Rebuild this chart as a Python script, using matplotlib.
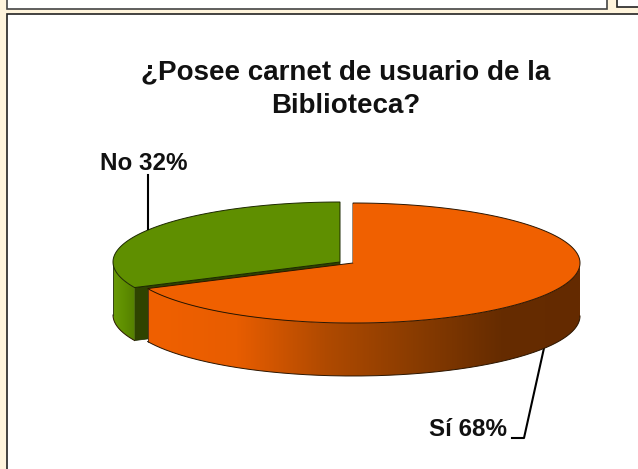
import numpy as np
import matplotlib
matplotlib.use('Agg')
import matplotlib.pyplot as plt
from matplotlib.patches import Polygon, Rectangle
from matplotlib.colors import LinearSegmentedColormap

plt.rcParams['font.family'] = ['Liberation Sans', 'DejaVu Sans']

# datos del grafico
categorias = ['Sí', 'No']
porcentajes = [68, 32]
titulo = ['¿Posee carnet de usuario de la', 'Biblioteca?']

fig = plt.figure(figsize=(6.38, 4.69), dpi=100, facecolor='#FFF4DC')
ax = fig.add_axes([0, 0, 1, 1])
ax.set_xlim(0, 638)
ax.set_ylim(469, 0)
ax.axis('off')

# paneles del fondo
ax.add_patch(Rectangle((7, -5), 600, 14, fc='white', ec='#444444', lw=1.2))
ax.add_patch(Rectangle((617, -5), 40, 12, fc='white', ec='#222222', lw=1.2))
ax.add_patch(Rectangle((7, 14), 640, 470, fc='white', ec='#222222', lw=1.2))

rx, ry, prof = 227, 60, 53


def borde(cx, cy, a1, a2, n=200):
    t = np.radians(np.linspace(a1, a2, n))
    return cx + rx * np.cos(t), cy - ry * np.sin(t)


def lateral(cx, cy, a1, a2, colores, x1, x2, z):
    # cara lateral con degradado en horizontal
    x, y = borde(cx, cy, a1, a2)
    verts = np.column_stack([np.r_[x, x[::-1]], np.r_[y, y[::-1] + prof]])
    pol = Polygon(verts, closed=True, fc='none', ec='none', zorder=z)
    ax.add_patch(pol)
    cmap = LinearSegmentedColormap.from_list('g', colores)
    im = ax.imshow(np.linspace(0, 1, 256).reshape(1, -1), cmap=cmap, aspect='auto',
                   extent=[x1, x2, 400, 190], zorder=z)
    im.set_clip_path(pol)
    ax.plot(x, y + prof, color='#2a1500', lw=0.7, zorder=z + 0.1)
    ax.plot([x[0], x[0]], [y[0], y[0] + prof], color='#222222', lw=0.5, zorder=z + 0.1)
    ax.set_xlim(0, 638)
    ax.set_ylim(469, 0)


ang_si = porcentajes[0] / 100 * 360
ang_no = porcentajes[1] / 100 * 360
fin = 90 - ang_si

# sector No (verde)
cx, cy = 340, 262
x, y = borde(cx, cy, 90, 90 + ang_no)
# cara interior oscura
ax.add_patch(Polygon([(cx, cy), (x[-1], y[-1]), (x[-1], y[-1] + prof), (cx, cy + prof)],
                     fc='#2F4300', ec='#1c2800', lw=0.5, zorder=2))
lateral(cx, cy, 180, 90 + ang_no, ['#6A9A08', '#5F8F00', '#557F00'], 113, 135, 3)
ax.add_patch(Polygon(np.column_stack([np.r_[cx, x], np.r_[cy, y]]), fc='#5F8F00', ec='#1c2800', lw=0.7, zorder=4))

# sector Si (naranja)
cx, cy = 353, 263
lateral(cx, cy, fin, 0, ['#F06000', '#E85D00', '#B04A00', '#8A3C00', '#662C00', '#642A00'], 148, 590, 5)
x, y = borde(cx, cy, 90, fin)
ax.add_patch(Polygon(np.column_stack([np.r_[cx, x], np.r_[cy, y]]), fc='#F06000', ec='#2a1500', lw=0.7, zorder=6))
# tapa el borde de los radios
ax.plot([cx, cx], [cy - ry + 1, cy - 0.5], color='#F06000', lw=0.8, zorder=7)

ax.text(346, 72.5, titulo[0], ha='center', va='center', fontsize=20, fontweight='bold', color='#111111')
ax.text(346, 106, titulo[1], ha='center', va='center', fontsize=20, fontweight='bold', color='#111111')

# etiquetas
ax.text(144, 163, f'{categorias[1]} {porcentajes[1]}%', ha='center', va='center',
        fontsize=17.4, fontweight='bold', color='#111111')
ax.plot([148, 148], [175, 229], color='black', lw=1.5, zorder=8)
ax.text(468, 430, f'{categorias[0]} {porcentajes[0]}%', ha='center', va='center',
        fontsize=17.4, fontweight='bold', color='#111111')
ax.plot([544, 524, 512], [348, 438, 438], color='black', lw=1.5, zorder=1)

fig.savefig('out.png', dpi=100, facecolor=fig.get_facecolor())
